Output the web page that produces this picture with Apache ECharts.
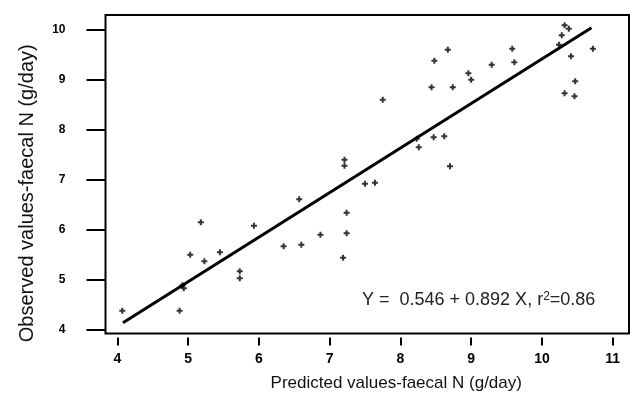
<!DOCTYPE html>
<html>
<head>
<meta charset="utf-8">
<title>Observed vs predicted faecal N</title>
<script src="https://cdn.jsdelivr.net/npm/echarts@6/dist/echarts.min.js"></script>
<style>
  html, body { margin: 0; padding: 0; background: #fff; }
  #chart { width: 630px; height: 401px; }
</style>
</head>
<body>
<div id="chart"></div>
<script>
// values
const predicted = [4.07, 4.88, 4.94, 4.92, 5.03, 5.18, 5.23, 5.45, 5.73, 5.73,
  5.93, 6.35, 6.57, 6.60, 6.87, 7.19, 7.21, 7.21, 7.24, 7.24,
  7.50, 7.64, 7.75, 8.23, 8.26, 8.44, 8.47, 8.48, 8.62, 8.67,
  8.70, 8.74, 8.96, 9.00, 9.29, 9.58, 9.61, 10.24, 10.28, 10.32,
  10.38, 10.41, 10.47, 10.32, 10.46, 10.72]
const observed = [4.37, 4.37, 4.82, 4.88, 5.49, 6.14, 5.36, 5.54, 5.16, 5.02,
  6.07, 5.66, 6.60, 5.69, 5.89, 5.43, 7.39, 7.27, 6.33, 5.92,
  6.91, 6.93, 8.59, 7.81, 7.64, 8.84, 7.84, 9.37, 7.86, 9.59,
  7.26, 8.84, 9.12, 8.99, 9.29, 9.61, 9.34, 9.69, 9.88, 10.08,
  10.01, 9.46, 8.96, 8.72, 8.66, 9.61]
// ends of the fitted line
const fitX = [4.08, 10.7]
const fitY = [4.13, 10.03]
const xTicks = [4, 5, 6, 7, 8, 9, 10, 11]
const yTicks = [4, 5, 6, 7, 8, 9, 10]

const font = 'Arial, "Liberation Sans", sans-serif'
const plus = 'path://M1,0H2V1H3V2H2V3H1V2H0V1H1Z'

const chart = echarts.init(document.getElementById('chart'), null, { renderer: 'canvas' })

chart.setOption({
  animation: false,
  backgroundColor: '#fff',
  grid: {
    left: 105.5,
    right: 1,
    top: 15,
    bottom: 67.5,
    show: true,
    borderColor: '#000',
    borderWidth: 2
  },
  xAxis: {
    type: 'value',
    min: 3.833,
    max: 11.23,
    offset: 4,
    name: 'Predicted values-faecal N (g/day)',
    nameLocation: 'middle',
    nameGap: 37,
    nameTextStyle: { fontFamily: font, fontSize: 17, color: '#111', padding: [0, 0, 0, 58] },
    axisLine: { show: false },
    axisTick: { show: true, length: 8, customValues: xTicks, lineStyle: { color: '#000', width: 2 } },
    axisLabel: { customValues: xTicks, margin: 15, fontFamily: font, fontSize: 14, fontWeight: 'bold', color: '#000' },
    splitLine: { show: false }
  },
  yAxis: {
    type: 'value',
    min: 3.916,
    max: 10.286,
    name: 'Observed values-faecal N (g/day)',
    nameLocation: 'middle',
    nameRotate: 90,
    nameGap: 68,
    nameTextStyle: { fontFamily: font, fontSize: 20, color: '#111', padding: [0, 38, 0, 0] },
    axisLine: { show: false },
    axisTick: { show: true, length: 19, customValues: yTicks, lineStyle: { color: '#000', width: 2 } },
    axisLabel: { customValues: yTicks, margin: 40, fontFamily: font, fontSize: 12, fontWeight: 'bold', color: '#000' },
    splitLine: { show: false }
  },
  graphic: [{
    type: 'text',
    left: 362,
    top: 291,
    style: {
      text: 'Y =  0.546 + 0.892 X, r{sup|2}=0.86',
      fontFamily: font,
      fontSize: 18,
      fill: '#222',
      rich: {
        sup: { fontFamily: font, fontSize: 12, fill: '#222', verticalAlign: 'top', padding: [0, 0, 6, 0] }
      }
    }
  }],
  series: [
    {
      name: 'fit',
      type: 'line',
      data: fitX.map((x, i) => [x, fitY[i]]),
      symbol: 'none',
      lineStyle: { color: '#000', width: 3 },
      z: 2
    },
    {
      name: 'observed',
      type: 'scatter',
      data: predicted.map((x, i) => [x, observed[i]]),
      symbol: plus,
      symbolSize: 6,
      itemStyle: { color: '#000' },
      z: 3
    }
  ]
})
</script>
</body>
</html>
